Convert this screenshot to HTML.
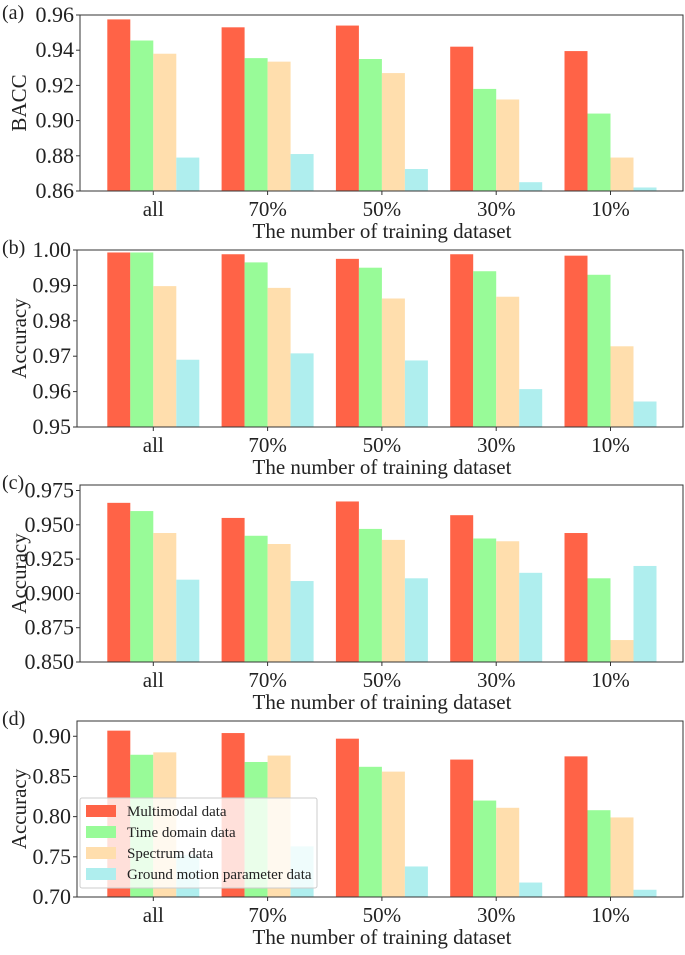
<!DOCTYPE html>
<html><head><meta charset="utf-8"><style>
html,body{margin:0;padding:0;background:#fff;}
svg, svg text{font-family:"Liberation Serif","DejaVu Serif","Times New Roman",serif !important;}
svg text{fill:#222;}
</style></head><body>
<svg id="fig" width="685" height="950" viewBox="0 0 685 950" xmlns="http://www.w3.org/2000/svg" font-family="Liberation Serif, serif"></svg>
<script>
const categories = ["all","70%","50%","30%","10%"];
const seriesNames = ["Multimodal data","Time domain data","Spectrum data","Ground motion parameter data"];
const colors = ["#FF6347","#98FB98","#FFDEAD","#AFEEEE"];
const aMulti = [0.9575,0.953,0.954,0.942,0.9395];
const aTime = [0.9455,0.9355,0.935,0.918,0.904];
const aSpec = [0.938,0.9335,0.927,0.912,0.879];
const aGround = [0.879,0.881,0.8725,0.865,0.862];
const bMulti = [0.9993,0.9988,0.9975,0.9988,0.9984];
const bTime = [0.9993,0.9965,0.995,0.994,0.993];
const bSpec = [0.9898,0.9893,0.9863,0.9868,0.9728];
const bGround = [0.969,0.9708,0.9688,0.9607,0.9572];
const cMulti = [0.966,0.955,0.967,0.957,0.944];
const cTime = [0.960,0.942,0.947,0.940,0.911];
const cSpec = [0.944,0.936,0.939,0.938,0.866];
const cGround = [0.910,0.909,0.911,0.915,0.920];
const dMulti = [0.907,0.904,0.897,0.871,0.875];
const dTime = [0.877,0.868,0.862,0.820,0.808];
const dSpec = [0.880,0.876,0.856,0.811,0.799];
const dGround = [0.752,0.763,0.738,0.718,0.709];
const aTicks = ["0.86","0.88","0.90","0.92","0.94","0.96"];
const bTicks = ["0.95","0.96","0.97","0.98","0.99","1.00"];
const cTicks = ["0.850","0.875","0.900","0.925","0.950","0.975"];
const dTicks = ["0.70","0.75","0.80","0.85","0.90"];

const NS="http://www.w3.org/2000/svg";
const svg=document.getElementById('fig');
const FF='"Liberation Serif", "DejaVu Serif", serif';
function mk(tag,attrs,parent){const e=document.createElementNS(NS,tag);for(const k in attrs)e.setAttribute(k,attrs[k]);if(tag==='text')e.style.fontFamily=FF;(parent||svg).appendChild(e);return e;}

const panels=[
 {tag:"a",series:[aMulti,aTime,aSpec,aGround],ticks:aTicks,ymin:0.86,ymax:0.96,top:15,bottom:191,left:80,ylabel:"BACC"},
 {tag:"b",series:[bMulti,bTime,bSpec,bGround],ticks:bTicks,ymin:0.95,ymax:1.00,top:250,bottom:427,left:77,ylabel:"Accuracy"},
 {tag:"c",series:[cMulti,cTime,cSpec,cGround],ticks:cTicks,ymin:0.85,ymax:0.979,top:485,bottom:662,left:80,ylabel:"Accuracy"},
 {tag:"d",series:[dMulti,dTime,dSpec,dGround],ticks:dTicks,ymin:0.70,ymax:0.919,top:721,bottom:897,left:77,ylabel:"Accuracy"}
];
const right=683, c0=153.3, step=114.3, bw=23;

panels.forEach((p,pi)=>{
  const g=mk('g',{});
  
  
  const y=v=>p.bottom-(v-p.ymin)/(p.ymax-p.ymin)*(p.bottom-p.top);
  const x=i=>c0+i*step;
  p.series.forEach((vals,si)=>{
    vals.forEach((v,ci)=>{
      const r=mk('rect',{x:x(ci)-2*bw+si*bw,y:y(v),width:bw,height:p.bottom-y(v),fill:colors[si]},g);
      
      
    });
  });
  const frame=mk('rect',{x:p.left,y:p.top,width:right-p.left,height:p.bottom-p.top,fill:'none',stroke:'#333','stroke-width':1},g);
  
  
  p.ticks.forEach(t=>{
    const ty=y(parseFloat(t));
    mk('line',{x1:p.left-4,x2:p.left,y1:ty,y2:ty,stroke:'#333'},g);
    const tx=mk('text',{x:p.left-6,y:ty+7,'text-anchor':'end','font-size':22},g);
    tx.textContent=t;
    
    
  });
  categories.forEach((c,ci)=>{
    mk('line',{x1:x(ci),x2:x(ci),y1:p.bottom,y2:p.bottom+4,stroke:'#333'},g);
    const tx=mk('text',{x:x(ci),y:p.bottom+25,'text-anchor':'middle','font-size':21},g);
    tx.textContent=c;
    
    
  });
  const xl=mk('text',{x:382,y:p.bottom+47,'text-anchor':'middle','font-size':21},g);
  xl.textContent="The number of training dataset";
  
  
  const cy=(p.top+p.bottom)/2;
  const yl=mk('text',{x:0,y:0,'text-anchor':'middle','font-size':21,transform:`translate(26,${cy}) rotate(-90)`},g);
  yl.textContent=p.ylabel;
  
  
  const pl=mk('text',{x:2,y:p.top+4,'font-size':20},g);
  pl.textContent="("+p.tag+")";
  
  
});

const lg=mk('g',{});


mk('rect',{x:80,y:798,width:237,height:90,fill:'rgba(255,255,255,0.8)',stroke:'#ccc','stroke-width':1,rx:2},lg);
seriesNames.forEach((n,i)=>{
  const ry=811+i*21;
  const e=mk('g',{},lg);
  
  
  mk('rect',{x:86,y:ry-6,width:30,height:12,fill:colors[i]},e);
  const t=mk('text',{x:127,y:ry+5,'font-size':15},e);
  t.textContent=n;
});
</script>
</body></html>
